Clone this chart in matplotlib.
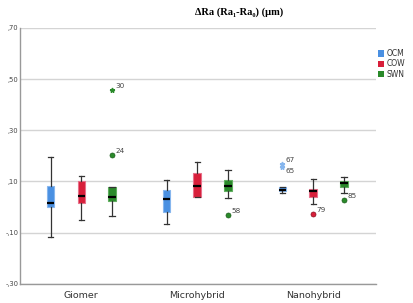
import matplotlib.pyplot as plt

groups = ['Giomer', 'Microhybrid', 'Nanohybrid']
series = ['OCM', 'COW', 'SWN']
colors = {'OCM': '#4a90e2', 'COW': '#d81f3a', 'SWN': '#2a8a2a'}
edges = {'OCM': '#86b6ee', 'COW': '#e8708a', 'SWN': '#5fae5f'}

# box stats per series: [Giomer, Microhybrid, Nanohybrid]
# (whislo, q1, med, q3, whishi)
stats = {
    'OCM': [(-0.115, 0.001, 0.016, 0.084, 0.195),
            (-0.065, -0.019, 0.033, 0.067, 0.104),
            (0.054, 0.062, 0.067, 0.079, 0.079)],
    'COW': [(-0.049, 0.016, 0.042, 0.101, 0.122),
            (0.041, 0.041, 0.083, 0.133, 0.176),
            (0.011, 0.041, 0.063, 0.071, 0.111)],
    'SWN': [(-0.036, 0.022, 0.038, 0.078, 0.078),
            (0.036, 0.063, 0.083, 0.105, 0.146),
            (0.056, 0.079, 0.093, 0.101, 0.117)],
}

# outliers: (series, group index, value, case label, extreme, label below)
outliers = [
    ('SWN', 0, 0.456, '30', True, False),
    ('SWN', 0, 0.203, '24', False, False),
    ('SWN', 1, -0.029, '58', False, False),
    ('OCM', 2, 0.169, '67', True, False),
    ('OCM', 2, 0.156, '65', True, True),
    ('COW', 2, -0.027, '79', False, False),
    ('SWN', 2, 0.029, '85', False, False),
]

yticks = [-0.3, -0.1, 0.1, 0.3, 0.5, 0.7]
ylabels = ['-,30', '-,10', ',10', ',30', ',50', ',70']

offsets = {'OCM': -0.265, 'COW': 0.0, 'SWN': 0.265}
width = 0.065

fig = plt.figure(figsize=(4.13, 3.03), dpi=100)
ax = fig.add_axes([0.048, 0.063, 0.862, 0.845])

for s in series:
    bxp = []
    for g in range(len(groups)):
        lo, q1, med, q3, hi = stats[s][g]
        bxp.append({'whislo': lo, 'q1': q1, 'med': med, 'q3': q3, 'whishi': hi, 'fliers': []})
    pos = [g + offsets[s] for g in range(len(groups))]
    ax.bxp(bxp, positions=pos, widths=width, patch_artist=True, showfliers=False,
           boxprops=dict(facecolor=colors[s], edgecolor=edges[s], linewidth=0.8),
           medianprops=dict(color='black', linewidth=1.6),
           whiskerprops=dict(color='#333333', linewidth=0.9),
           capprops=dict(color='#333333', linewidth=0.9), capwidths=0.045,
           zorder=3)

for s, g, v, lab, extreme, below in outliers:
    x = g + offsets[s]
    if extreme:
        ax.plot(x, v, marker='*', markersize=3.5, color=edges[s] if s == 'OCM' else colors[s],
                linestyle='none', zorder=4)
    else:
        ax.plot(x, v, marker='o', markersize=3.6, color=colors[s],
                markeredgecolor='#1d5e1d' if s == 'SWN' else '#8a1020',
                markeredgewidth=0.5, linestyle='none', zorder=4)
    if below:
        ax.text(x + 0.03, v - 0.003, lab, fontsize=5.2, color='#444444', va='top', ha='left')
    else:
        ax.text(x + 0.03, v + 0.004, lab, fontsize=5.2, color='#444444', va='bottom', ha='left')

ax.set_xlim(-0.53, 2.54)
ax.set_ylim(-0.3, 0.7)
ax.set_yticks(yticks)
ax.set_yticklabels(ylabels)
ax.set_xticks(range(len(groups)))
ax.set_xticklabels(groups)
ax.tick_params(axis='y', length=0, labelsize=4.9, labelcolor='#444444', pad=1)
ax.tick_params(axis='x', length=0, labelsize=6.8, labelcolor='#333333', pad=5)
ax.grid(axis='y', color='#d4d4d4', linewidth=1.0, zorder=0)
ax.set_axisbelow(True)
for sp in ['top', 'right']:
    ax.spines[sp].set_visible(False)
for sp in ['left', 'bottom']:
    ax.spines[sp].set_color('#999999')
    ax.spines[sp].set_linewidth(1.0)

# legend
handles = [plt.Rectangle((0, 0), 1, 1, facecolor=colors[s], edgecolor='none') for s in series]
fig.legend(handles, series, loc='upper left', bbox_to_anchor=(0.905, 0.85), frameon=False,
           fontsize=5.5, handlelength=0.9, handleheight=0.9, handletextpad=0.3,
           labelspacing=0.15, borderpad=0, labelcolor='#333333')

fig.text(0.58, 0.975, 'ΔRa (Ra₁-Ra₀) (µm)', ha='center', va='top',
         fontsize=7.5, fontweight='bold', family=['Liberation Serif', 'DejaVu Serif'])

fig.savefig('out.png', dpi=100)
